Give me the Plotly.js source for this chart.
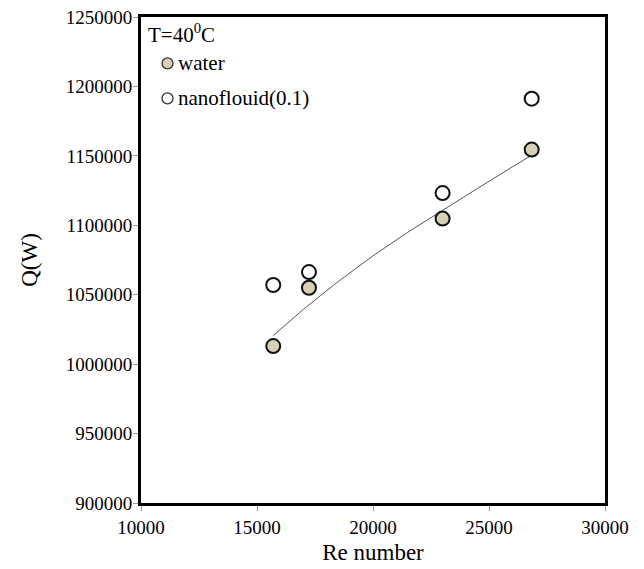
<!DOCTYPE html>
<html>
<head>
<meta charset="utf-8">
<script src="https://cdn.plot.ly/plotly-3.0.1.min.js"></script>
<style>html,body{margin:0;padding:0;background:#fff;}#chart{width:644px;height:569px;}</style>
</head>
<body>
<div id="chart"></div>
<script>
var reWater = [15700, 17240, 23000, 26840];
var qWater = [1013000, 1055000, 1104800, 1154500];
var reNano = [15700, 17240, 23000, 26840];
var qNano = [1057000, 1066300, 1123200, 1191200];
var reTrend = [15700, 17000, 18500, 20000, 21500, 23000, 24500, 26000, 26840];
var qTrend = [1020500, 1039500, 1059500, 1078000, 1095000, 1111000, 1126500, 1142000, 1150500];
var xTicks = [10000, 15000, 20000, 25000, 30000];
var yTicks = [900000, 950000, 1000000, 1050000, 1100000, 1150000, 1200000, 1250000];
var legendNames = ['water', 'nanoflouid(0.1)'];
var legendFills = ['#d6d1b6', '#ffffff'];

var serif = '"Liberation Serif", "Times New Roman", serif';
var traces = [
  {x: reTrend, y: qTrend, mode: 'lines', line: {color: '#555555', width: 1}, showlegend: false, hoverinfo: 'skip'},
  {x: reWater, y: qWater, mode: 'markers', name: legendNames[0], showlegend: false,
   marker: {size: 14, color: legendFills[0], line: {color: '#111111', width: 2}}},
  {x: reNano, y: qNano, mode: 'markers', name: legendNames[1], showlegend: false,
   marker: {size: 14, color: legendFills[1], line: {color: '#111111', width: 2}}}
];

// plot area: x 141..605 px, y 16.7..502.5 px
var PW = 464, PH = 485.8;
function px(x) { return (x - 141) / PW; }
function py(y) { return (502.5 - y) / PH; }

var shapes = [];
var annotations = [{xref: 'paper', yref: 'paper', x: px(146), y: py(33), xanchor: 'left', yanchor: 'middle',
  showarrow: false, text: 'T=40<sup>0</sup>C', font: {family: serif, size: 21}}];
var rowsY = [63, 98];
for (var i = 0; i < legendNames.length; i++) {
  shapes.push({type: 'circle', xref: 'paper', yref: 'paper',
    x0: px(162), x1: px(173), y0: py(rowsY[i] - 5.5), y1: py(rowsY[i] + 5.5),
    fillcolor: legendFills[i], line: {color: '#333333', width: 1.3}});
  annotations.push({xref: 'paper', yref: 'paper', x: px(176), y: py(rowsY[i]), xanchor: 'left', yanchor: 'middle',
    showarrow: false, text: legendNames[i], font: {family: serif, size: 21}});
}

var layout = {
  width: 644, height: 569,
  margin: {l: 141, r: 39, t: 17, b: 66},
  paper_bgcolor: '#ffffff', plot_bgcolor: '#ffffff',
  font: {family: serif, size: 19, color: '#000'},
  showlegend: false,
  xaxis: {range: [10000, 30000], tickvals: xTicks, ticktext: xTicks.map(String),
    showgrid: false, zeroline: false, showline: true, linecolor: '#000', linewidth: 3, mirror: true,
    ticks: 'outside', ticklen: 5, tickcolor: '#999', tickwidth: 1,
    tickfont: {family: serif, size: 19},
    title: {text: 'Re number', font: {family: serif, size: 23}, standoff: 8}},
  yaxis: {range: [900000, 1250000], tickvals: yTicks, ticktext: yTicks.map(String),
    showgrid: false, zeroline: false, showline: true, linecolor: '#000', linewidth: 3, mirror: true,
    ticks: 'outside', ticklen: 5, tickcolor: '#999', tickwidth: 1, ticklabelstandoff: -3,
    tickfont: {family: serif, size: 19},
    title: {text: 'Q(W)', font: {family: serif, size: 23}, standoff: 22}},
  shapes: shapes,
  annotations: annotations
};
Plotly.newPlot('chart', traces, layout, {displayModeBar: false, staticPlot: true});
</script>
</body>
</html>
